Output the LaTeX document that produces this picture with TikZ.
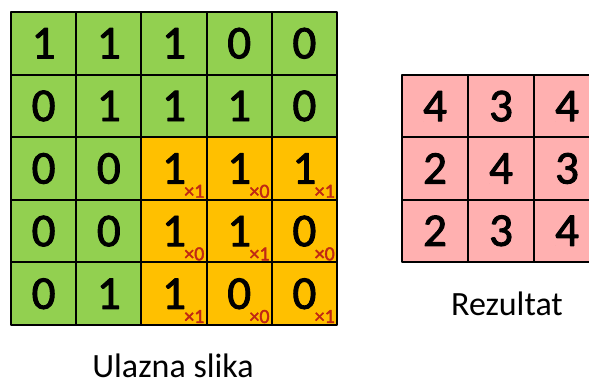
\documentclass[tikz,border=0pt]{standalone}
\usepackage{fontspec}
\setmainfont{Carlito}
\newfontfamily\digitfont[FakeBold=2]{Carlito}
\usetikzlibrary{positioning}
\definecolor{cellgreen}{RGB}{146,208,80}
\definecolor{cellorange}{RGB}{255,192,0}
\definecolor{cellpink}{RGB}{255,176,176}
\definecolor{wtred}{RGB}{192,40,20}
\begin{document}
\begin{tikzpicture}[x=1pt,y=1pt,line join=round,
  cell/.style={draw,line width=1.9pt,inner sep=0pt,minimum width=65.2pt,minimum height=62.6pt,font=\digitfont\fontsize{47}{47}\selectfont},
  rcell/.style={cell,fill=cellpink,minimum width=66pt,minimum height=62.3pt},
  wt/.style={text=wtred,font=\digitfont\fontsize{20}{20}\selectfont,inner sep=0pt,anchor=base east},
  caption/.style={font=\fontsize{34}{34}\selectfont,anchor=base,inner sep=0pt,text depth=0pt}]
\useasboundingbox (0,0) rectangle (589,383);
\clip (0,0) rectangle (589,383);
% input image
\foreach \row [count=\j from 0] in {{1,1,1,0,0},{0,1,1,1,0},{0,0,1,1,1},{0,0,1,1,0},{0,1,1,0,0}}
  \foreach \v [count=\i from 0] in \row {
    \def\fillc{cellgreen}
    \ifnum\i>1 \ifnum\j>1 \def\fillc{cellorange}\fi\fi
    \node[cell,fill=\fillc] (in-\i-\j) at ({11+65.2*(\i+0.5)},{371-62.6*(\j+0.5)}) {\v};
  }
% kernel weights
\foreach \row [count=\j from 2] in {{1,0,1},{0,1,0},{1,0,1}}
  \foreach \w [count=\i from 2] in \row
    \node[wt] (w-\i-\j) at ([xshift=-3pt,yshift=3pt]in-\i-\j.south east) {×\w};
% result
\foreach \row [count=\j from 0] in {{4,3,4},{2,4,3},{2,3,4}}
  \foreach \v [count=\i from 0] in \row
    \node[rcell] (out-\i-\j) at ({402+66*(\i+0.5)},{308-62.3*(\j+0.5)}) {\v};
\node[caption] (inlabel) at (173,6) {Ulazna slika};
\node[caption] (outlabel) at (507,67) {Rezultat};
\end{tikzpicture}
\end{document}
